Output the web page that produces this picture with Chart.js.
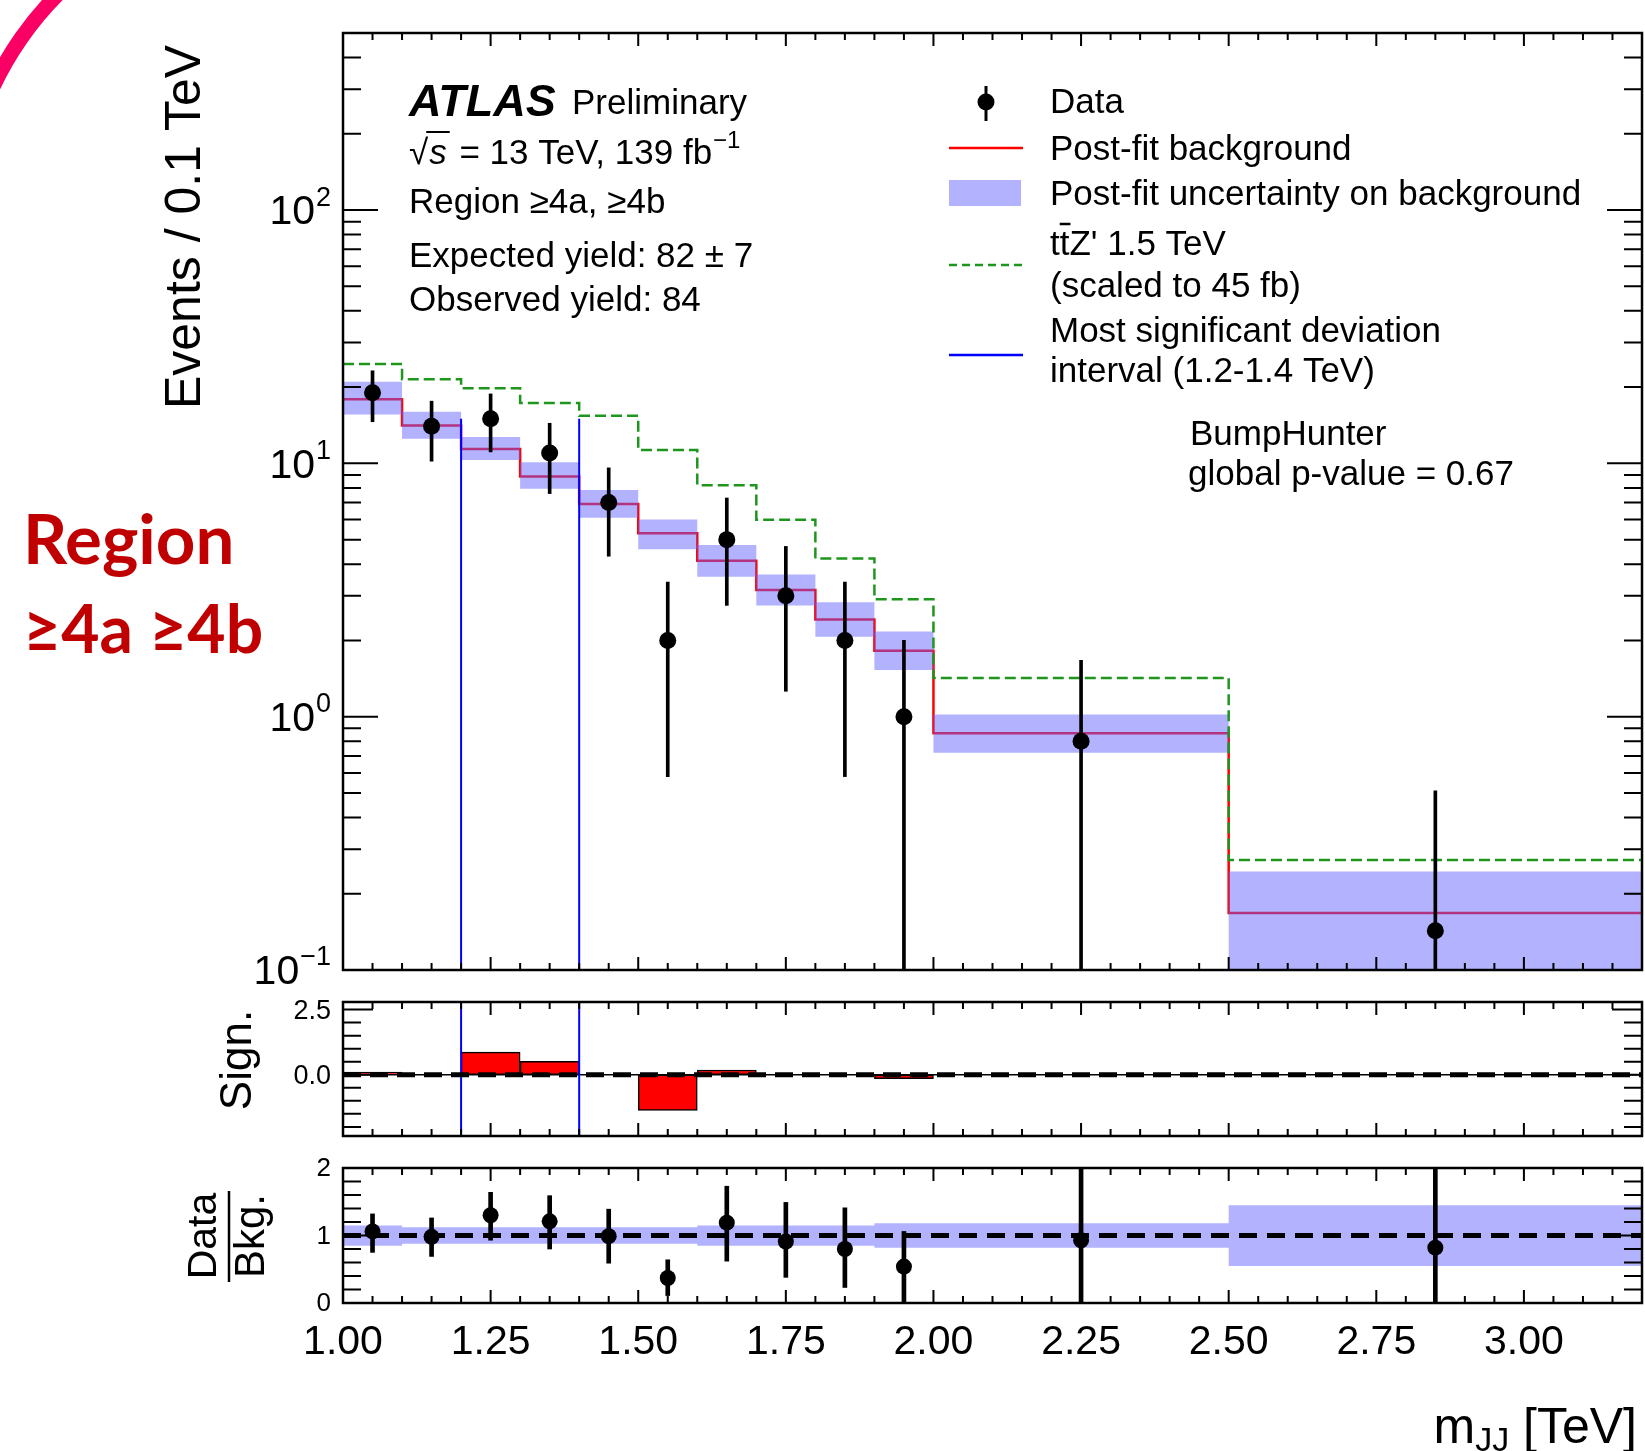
<!DOCTYPE html>
<html>
<head>
<meta charset="utf-8">
<script src="https://cdn.jsdelivr.net/npm/chart.js@4.4.0/dist/chart.umd.min.js"></script>
<style>
  body { margin: 0; background: #fff; width: 1645px; height: 1451px; position: relative; overflow: hidden; }
  canvas { position: absolute; left: 0; }
</style>
</head>
<body>
<canvas id="main" width="1645" height="990" style="top:0px"></canvas>
<canvas id="sign" width="1645" height="160" style="top:990px"></canvas>
<canvas id="ratio" width="1645" height="301" style="top:1150px"></canvas>
<script>
// binning (TeV)
const binEdges = [1.0, 1.1, 1.2, 1.3, 1.4, 1.5, 1.6, 1.7, 1.8, 1.9, 2.0, 2.5, 3.2];
const binCenters = [1.05, 1.15, 1.25, 1.35, 1.45, 1.55, 1.65, 1.75, 1.85, 1.95, 2.25, 2.85];

// upper panel, events / 0.1 TeV
const dataEvents = [19, 14, 15, 11, 7, 2, 5, 3, 2, 1, 0.8, 0.143];
const dataErrUp = [23.2, 17.6, 18.8, 14.4, 9.6, 3.4, 7.3, 4.7, 3.4, 2.0, 1.67, 0.51];
const dataErrDown = [14.6, 10.2, 11.1, 7.6, 4.3, 0.58, 2.75, 1.26, 0.58, 0, 0, 0];
const postFitBkg = [17.9, 14.1, 11.4, 8.87, 6.92, 5.30, 4.13, 3.16, 2.42, 1.82, 0.86, 0.168];
const bkgBandUp = [21.0, 16.0, 12.7, 10.1, 7.85, 6.01, 4.76, 3.64, 2.83, 2.17, 1.02, 0.245];
const bkgBandDown = [15.6, 12.5, 10.3, 7.94, 6.10, 4.58, 3.57, 2.75, 2.07, 1.53, 0.72, 0.094];
const signalTtZ = [24.7, 21.5, 19.8, 17.3, 15.4, 11.3, 8.2, 5.99, 4.21, 2.91, 1.42, 0.272];
const bumpEdges = [1.2, 1.4];
const bumpLineTop = 15;

// significance panel (bins 1.0 - 2.0)
const significance = [0.10, 0, 0.87, 0.51, 0, -1.37, 0.18, 0, 0, -0.15];

// ratio panel
const ratio = [1.06, 0.98, 1.30, 1.21, 0.99, 0.37, 1.19, 0.91, 0.80, 0.54, 0.93, 0.82];
const ratioErrUp = [1.32, 1.26, 1.64, 1.59, 1.39, 0.64, 1.73, 1.49, 1.41, 1.06, 2.0, 2.0];
const ratioErrDown = [0.75, 0.69, 0.93, 0.80, 0.59, 0.11, 0.62, 0.38, 0.23, 0, 0, 0];
const bkgRelErr = [0.15, 0.124, 0.124, 0.124, 0.124, 0.124, 0.15, 0.15, 0.15, 0.18, 0.18, 0.45];

// axis ticks
const xTickLabels = ['1.00', '1.25', '1.50', '1.75', '2.00', '2.25', '2.50', '2.75', '3.00'];
const logTickValues = [0.1, 1, 10, 100];
const logTickExp = ['\u22121', '0', '1', '2'];
const signTickLabels = ['2.5', '0.0'];
const ratioTickLabels = ['2', '1', '0'];

const FONT = '"Liberation Sans", Arial, Helvetica, sans-serif';
const X_MIN = 1.0, X_MAX = 3.2;
const LOG_MIN = 0.1, LOG_MAX = 500;
const BAND = 'rgba(102,102,255,0.5)';

// step histogram points from per-bin values
function steps(values) {
    const pts = values.map((v, i) => ({x: binEdges[i], y: v}));
    pts.push({x: binEdges[values.length], y: values[values.length - 1]});
    return pts;
}

function frameAndTicks(chart, yTicks) {
    const {ctx, chartArea: a, scales: {x, y}} = chart;
    ctx.save();
    ctx.strokeStyle = '#000';
    ctx.lineWidth = 2;
    ctx.beginPath();
    for (let i = 0; i <= 44; i++) {
        const px = x.getPixelForValue(X_MIN + i * 0.05);
        const len = i % 5 === 0 ? 13 : 7;
        ctx.moveTo(px, a.bottom); ctx.lineTo(px, a.bottom - len);
        ctx.moveTo(px, a.top); ctx.lineTo(px, a.top + len);
    }
    yTicks.forEach(t => {
        const py = y.getPixelForValue(t.v);
        ctx.moveTo(a.left, py); ctx.lineTo(a.left + t.len, py);
        ctx.moveTo(a.right, py); ctx.lineTo(a.right - t.len, py);
    });
    ctx.stroke();
    ctx.lineWidth = 2.5;
    ctx.strokeRect(a.left, a.top, a.right - a.left, a.bottom - a.top);
    ctx.restore();
}

function rotText(ctx, text, x, y, font) {
    ctx.save();
    ctx.translate(x, y);
    ctx.rotate(-Math.PI / 2);
    ctx.font = font;
    ctx.textAlign = 'center';
    ctx.textBaseline = 'middle';
    ctx.fillText(text, 0, 0);
    ctx.restore();
}

function baseOptions(yScale, padding) {
    return {
        responsive: false,
        animation: false,
        events: [],
        layout: {padding: padding, autoPadding: false},
        plugins: {legend: {display: false}, tooltip: {enabled: false}},
        scales: {
            x: {type: 'linear', min: X_MIN, max: X_MAX, offset: false, display: false},
            y: Object.assign({display: false}, yScale)
        }
    };
}

// ---------- upper panel ----------
const mainTicks = [];
for (let d = -1; d <= 2; d++) {
    for (let m = 1; m <= 9; m++) {
        const v = m * Math.pow(10, d);
        if (v < LOG_MAX) mainTicks.push({v: v, len: m === 1 ? 35 : 18});
    }
}

const mainPlugin = {
    id: 'mainDecor',
    afterDatasetsDraw(chart) { frameAndTicks(chart, mainTicks); },
    afterDraw(chart) {
        const ctx = chart.ctx;
        const y = chart.scales.y;
        ctx.save();
        ctx.fillStyle = '#000';

        // y tick labels 10^n
        logTickValues.forEach((v, i) => {
            const py = y.getPixelForValue(v);
            ctx.font = `27px ${FONT}`;
            ctx.textAlign = 'right';
            ctx.textBaseline = 'middle';
            const ew = ctx.measureText(logTickExp[i]).width;
            ctx.fillText(logTickExp[i], 331, py - 12);
            ctx.font = `41px ${FONT}`;
            ctx.fillText('10', 330 - ew, py + 3);
        });

        rotText(ctx, 'Events / 0.1 TeV', 186, 227, `50px ${FONT}`);

        // ATLAS label block
        ctx.textAlign = 'left';
        ctx.textBaseline = 'middle';
        ctx.font = `italic bold 45px ${FONT}`;
        ctx.fillText('ATLAS', 409, 104);
        ctx.font = `35px ${FONT}`;
        ctx.fillText('Preliminary', 572, 104);

        let x0 = 409;
        ctx.fillText('\u221A', x0, 154);
        x0 += ctx.measureText('\u221A').width;
        ctx.font = `italic 35px ${FONT}`;
        const sw = ctx.measureText('s').width;
        ctx.fillText('s', x0 + 1, 154);
        ctx.lineWidth = 2;
        ctx.beginPath();
        ctx.moveTo(x0 - 2, 132); ctx.lineTo(x0 + sw + 4, 132);
        ctx.stroke();
        x0 += sw + 4;
        ctx.font = `35px ${FONT}`;
        const lumi = ' = 13 TeV, 139 fb';
        ctx.fillText(lumi, x0, 154);
        x0 += ctx.measureText(lumi).width;
        ctx.font = `24px ${FONT}`;
        ctx.fillText('\u22121', x0 + 1, 141);

        ctx.font = `35px ${FONT}`;
        ctx.fillText('Region \u22654a, \u22654b', 409, 203);
        ctx.fillText('Expected yield: 82 \u00B1 7', 409, 257);
        ctx.fillText('Observed yield: 84', 409, 301);

        // legend
        ctx.fillText('Data', 1050, 103);
        ctx.fillText('Post-fit background', 1050, 150);
        ctx.fillText('Post-fit uncertainty on background', 1050, 195);
        const tw = ctx.measureText('t').width;
        ctx.fillText('tt', 1050, 245);
        ctx.fillText("Z' 1.5 TeV", 1050 + 2 * tw, 245);
        ctx.fillText('(scaled to 45 fb)', 1050, 287);
        ctx.fillText('Most significant deviation', 1050, 332);
        ctx.fillText('interval (1.2-1.4 TeV)', 1050, 372);
        ctx.fillText('BumpHunter', 1190, 435);
        ctx.fillText('global p-value = 0.67', 1188, 475);

        ctx.lineWidth = 2.5;
        ctx.beginPath();
        ctx.moveTo(1050 + tw, 224); ctx.lineTo(1050 + 2 * tw + 1, 224);
        ctx.stroke();

        ctx.lineWidth = 3;
        ctx.beginPath();
        ctx.moveTo(986, 86); ctx.lineTo(986, 121);
        ctx.stroke();
        ctx.beginPath();
        ctx.arc(986, 102, 8.5, 0, Math.PI * 2);
        ctx.fill();

        ctx.strokeStyle = '#ff0000';
        ctx.lineWidth = 2.5;
        ctx.beginPath();
        ctx.moveTo(949, 148); ctx.lineTo(1023, 148);
        ctx.stroke();

        ctx.fillStyle = 'rgb(178,178,255)';
        ctx.fillRect(949, 180, 72, 26);

        ctx.strokeStyle = 'rgb(30,150,30)';
        ctx.setLineDash([8, 5]);
        ctx.beginPath();
        ctx.moveTo(949, 265); ctx.lineTo(1023, 265);
        ctx.stroke();
        ctx.setLineDash([]);

        ctx.strokeStyle = '#0000ff';
        ctx.beginPath();
        ctx.moveTo(949, 355); ctx.lineTo(1023, 355);
        ctx.stroke();

        // slide annotation
        ctx.fillStyle = 'rgb(192,0,0)';
        ctx.font = `bold 69px Lato, "Open Sans", ${FONT}`;
        ctx.fillText('Region', 23, 542);
        ctx.font = `bold 66px Lato, "Open Sans", ${FONT}`;
        ctx.fillText('\u22654a \u22654b', 23, 632);

        ctx.strokeStyle = 'rgb(250,0,100)';
        ctx.lineWidth = 15;
        ctx.beginPath();
        ctx.arc(290, 226, 328, Math.PI * -165 / 180, Math.PI * -125 / 180);
        ctx.stroke();
        ctx.restore();
    }
};

new Chart(document.getElementById('main'), {
    type: 'line',
    data: {
        datasets: [
            {data: steps(postFitBkg), stepped: true, borderColor: '#ff0000', borderWidth: 2.5, pointRadius: 0, order: 6},
            {data: steps(bkgBandDown), stepped: true, borderWidth: 0, pointRadius: 0, fill: false, order: 5},
            {data: steps(bkgBandUp), stepped: true, borderWidth: 0, pointRadius: 0, fill: '-1', backgroundColor: BAND, order: 5},
            {data: steps(signalTtZ), stepped: true, borderColor: 'rgb(30,150,30)', borderWidth: 2.5, borderDash: [11, 5], pointRadius: 0, order: 4},
            {data: [{x: bumpEdges[0], y: LOG_MIN}, {x: bumpEdges[0], y: bumpLineTop}], borderColor: '#0000ff', borderWidth: 2, pointRadius: 0, order: 3},
            {data: [{x: bumpEdges[1], y: LOG_MIN}, {x: bumpEdges[1], y: bumpLineTop}], borderColor: '#0000ff', borderWidth: 2, pointRadius: 0, order: 3},
            // error bars; a zero lower edge runs off the bottom of the log axis
            {type: 'bar', data: binCenters.map((c, i) => ({x: c, y: [Math.max(dataErrDown[i], LOG_MIN / 10), dataErrUp[i]]})),
             backgroundColor: '#000', barThickness: 3, grouped: false, order: 2},
            {data: binCenters.map((c, i) => ({x: c, y: dataEvents[i]})), showLine: false,
             pointRadius: 8.5, pointBackgroundColor: '#000', pointBorderWidth: 0, order: 1}
        ]
    },
    options: baseOptions({type: 'logarithmic', min: LOG_MIN, max: LOG_MAX}, {left: 343, right: 3, top: 33, bottom: 20}),
    plugins: [mainPlugin]
});

// ---------- significance panel ----------
const SIGN_MIN = -2.35, SIGN_MAX = 2.79;
const signTicks = [];
for (let i = -4; i <= 5; i++) signTicks.push({v: i * 0.5, len: (i === 0 || i === 5) ? 30 : 18});

const signPlugin = {
    id: 'signDecor',
    afterDatasetsDraw(chart) { frameAndTicks(chart, signTicks); },
    afterDraw(chart) {
        const ctx = chart.ctx;
        const y = chart.scales.y;
        ctx.save();
        ctx.fillStyle = '#000';
        ctx.font = `27px ${FONT}`;
        ctx.textAlign = 'right';
        ctx.textBaseline = 'middle';
        signTickLabels.forEach(l => ctx.fillText(l, 331, y.getPixelForValue(parseFloat(l)) + 2));
        rotText(ctx, 'Sign.', 239, 70, `44px ${FONT}`);
        ctx.restore();
    }
};

new Chart(document.getElementById('sign'), {
    type: 'line',
    data: {
        datasets: [
            {type: 'bar', data: significance.map((s, i) => ({x: binCenters[i], y: s})),
             backgroundColor: '#ff0000', borderColor: '#000', borderWidth: 1.5, borderSkipped: false,
             barPercentage: 1, categoryPercentage: 1, order: 4},
            {data: [{x: X_MIN, y: 0}, {x: X_MAX, y: 0}], borderColor: '#000', borderWidth: 1.5, pointRadius: 0, order: 3},
            {data: [{x: bumpEdges[0], y: SIGN_MIN}, {x: bumpEdges[0], y: SIGN_MAX}], borderColor: '#0000ff', borderWidth: 2, pointRadius: 0, order: 2},
            {data: [{x: bumpEdges[1], y: SIGN_MIN}, {x: bumpEdges[1], y: SIGN_MAX}], borderColor: '#0000ff', borderWidth: 2, pointRadius: 0, order: 2},
            {data: [{x: X_MIN, y: 0}, {x: X_MAX, y: 0}], borderColor: '#000', borderWidth: 5, borderDash: [18, 9], pointRadius: 0, order: 1}
        ]
    },
    options: baseOptions({type: 'linear', min: SIGN_MIN, max: SIGN_MAX}, {left: 343, right: 3, top: 12, bottom: 14}),
    plugins: [signPlugin]
});

// ---------- ratio panel ----------
const ratioTicks = [];
for (let i = 0; i <= 10; i++) ratioTicks.push({v: i * 0.2, len: i % 5 === 0 ? 30 : 18});

const ratioPlugin = {
    id: 'ratioDecor',
    afterDatasetsDraw(chart) { frameAndTicks(chart, ratioTicks); },
    afterDraw(chart) {
        const ctx = chart.ctx;
        const {x, y} = chart.scales;
        ctx.save();
        ctx.fillStyle = '#000';
        ctx.font = `26px ${FONT}`;
        ctx.textAlign = 'right';
        ctx.textBaseline = 'middle';
        ratioTickLabels.forEach(l => ctx.fillText(l, 331, y.getPixelForValue(parseFloat(l)) + 1));

        ctx.font = `41px ${FONT}`;
        ctx.textAlign = 'center';
        xTickLabels.forEach(l => ctx.fillText(l, x.getPixelForValue(parseFloat(l)), 193));

        rotText(ctx, 'Data', 205, 86, `41px ${FONT}`);
        rotText(ctx, 'Bkg.', 252, 86, `42px ${FONT}`);
        ctx.lineWidth = 2.5;
        ctx.beginPath();
        ctx.moveTo(229, 41); ctx.lineTo(229, 132);
        ctx.stroke();

        // x axis title
        ctx.textAlign = 'left';
        const t1 = ' [TeV]';
        ctx.font = `34px ${FONT}`;
        const wJ = ctx.measureText('JJ').width;
        ctx.font = `50px ${FONT}`;
        const wm = ctx.measureText('m').width;
        const wt = ctx.measureText(t1).width;
        const x0 = 1637 - wm - wJ - wt;
        ctx.fillText('m', x0, 279);
        ctx.font = `34px ${FONT}`;
        ctx.fillText('JJ', x0 + wm, 292);
        ctx.font = `50px ${FONT}`;
        ctx.fillText(t1, x0 + wm + wJ, 279);
        ctx.restore();
    }
};

new Chart(document.getElementById('ratio'), {
    type: 'line',
    data: {
        datasets: [
            {data: steps(bkgRelErr.map(e => 1 - e)), stepped: true, borderWidth: 0, pointRadius: 0, fill: false, order: 3},
            {data: steps(bkgRelErr.map(e => 1 + e)), stepped: true, borderWidth: 0, pointRadius: 0, fill: '-1', backgroundColor: BAND, order: 3},
            {data: [{x: X_MIN, y: 1}, {x: X_MAX, y: 1}], borderColor: '#000', borderWidth: 5, borderDash: [18, 10], pointRadius: 0, order: 2},
            {type: 'bar', data: binCenters.map((c, i) => ({x: c, y: [ratioErrDown[i], ratioErrUp[i]]})),
             backgroundColor: '#000', barThickness: 4, grouped: false, order: 1.5},
            {data: binCenters.map((c, i) => ({x: c, y: ratio[i]})), showLine: false,
             pointRadius: 8, pointBackgroundColor: '#000', pointBorderWidth: 0, order: 1}
        ]
    },
    options: baseOptions({type: 'linear', min: 0, max: 2}, {left: 343, right: 3, top: 18, bottom: 148}),
    plugins: [ratioPlugin]
});
</script>
</body>
</html>
